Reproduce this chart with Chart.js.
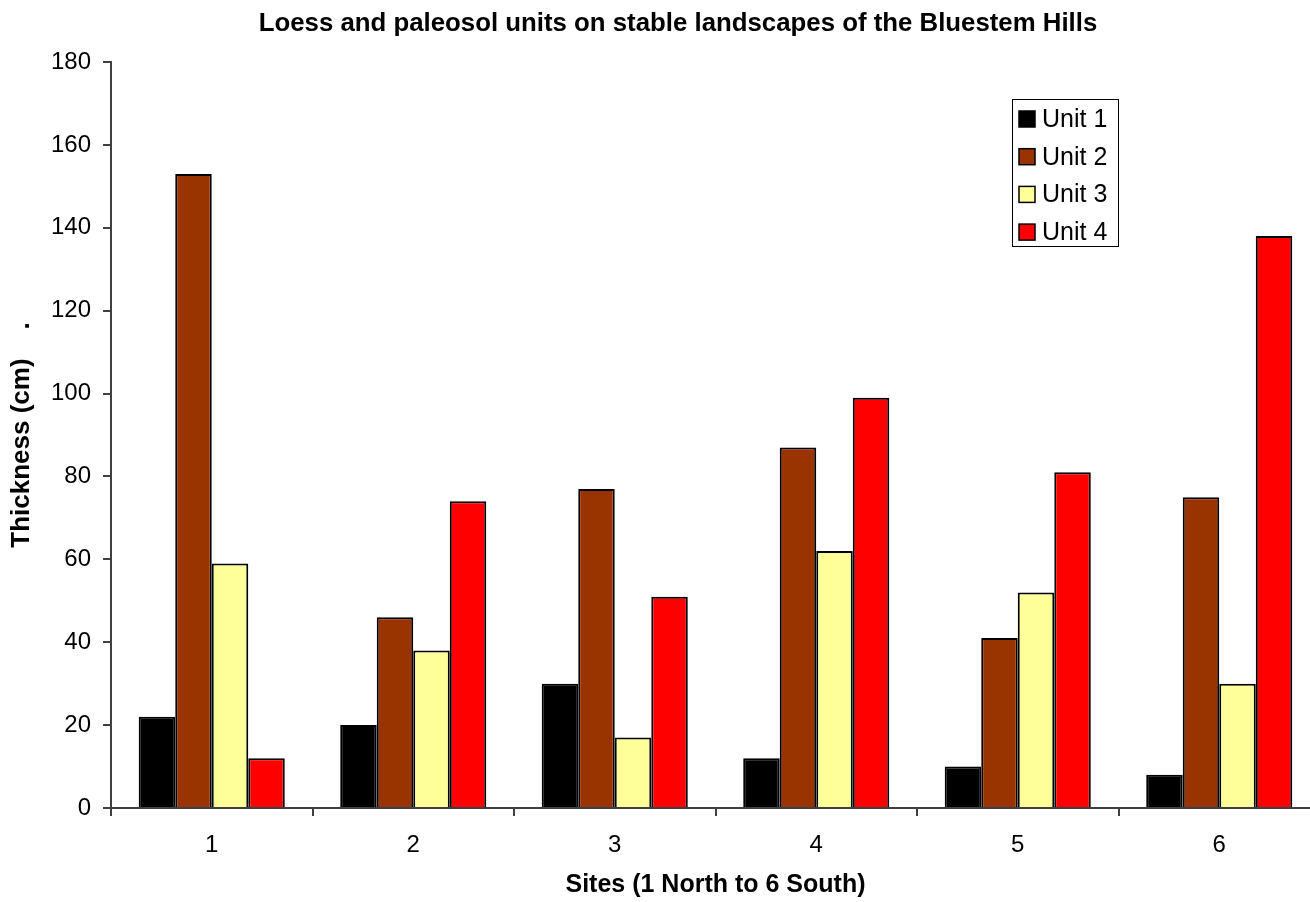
<!DOCTYPE html>
<html>
<head>
<meta charset="utf-8">
<title>Loess and paleosol units</title>
<script src="https://cdn.jsdelivr.net/npm/chart.js@4/dist/chart.umd.min.js"></script>
<style>
  html, body { margin: 0; padding: 0; background: #fff; overflow: hidden; }
  #wrap { width: 1310px; height: 902px; overflow: hidden; }
  #c { display: block; }
</style>
</head>
<body>
<div id="wrap"><canvas id="c" width="1350" height="902"></canvas></div>
<script>
// Sites along the transect, north to south
const sites = ['1', '2', '3', '4', '5', '6'];

// Thickness of each unit (cm) at each site
const unit1 = [22, 20, 30, 12, 10, 8];
const unit2 = [153, 46, 77, 87, 41, 75];
const unit3 = [59, 38, 17, 62, 52, 30];
const unit4 = [12, 74, 51, 99, 81, 138];

const unitNames = ['Unit 1', 'Unit 2', 'Unit 3', 'Unit 4'];
const unitColors = ['#000000', '#993300', '#FFFF99', '#FF0000'];

// Y axis: 0 to 180 in steps of 20
const yMin = 0, yMax = 180, yStep = 20;

const chartTitle = 'Loess and paleosol units on stable landscapes of the Bluestem Hills';
const xTitle = 'Sites (1 North to 6 South)';
const yTitle = 'Thickness (cm)    .';

const FONT = '"Liberation Sans", Arial, sans-serif';
const AXIS_GREY = '#404040';

// Chart heading and boxed legend (upper right of the plot area)
const decorations = {
  id: 'decorations',
  afterDraw(chart) {
    const ctx = chart.ctx;
    ctx.save();

    ctx.fillStyle = '#000';
    ctx.font = 'bold 25.8px ' + FONT;
    ctx.textAlign = 'center';
    ctx.textBaseline = 'alphabetic';
    ctx.fillText(chartTitle, 678, 31);

    const x0 = 1012, y0 = 99, w = 106, h = 147;
    ctx.fillStyle = '#fff';
    ctx.fillRect(x0, y0, w, h);
    ctx.strokeStyle = '#000';
    ctx.lineWidth = 1;
    ctx.strokeRect(x0 + 0.5, y0 + 0.5, w, h);
    ctx.font = '25px ' + FONT;
    ctx.textAlign = 'left';
    ctx.textBaseline = 'middle';
    chart.data.datasets.forEach((ds, i) => {
      const cy = 119 + i * 37.7;
      ctx.fillStyle = ds.backgroundColor;
      ctx.fillRect(1019, cy - 8, 16, 16);
      ctx.lineWidth = 1.5;
      ctx.strokeStyle = '#000';
      ctx.strokeRect(1019, cy - 8, 16, 16);
      ctx.fillStyle = '#000';
      ctx.fillText(ds.label, 1042, cy + 1);
    });
    ctx.restore();
  }
};

const seriesValues = [unit1, unit2, unit3, unit4];

new Chart(document.getElementById('c'), {
  type: 'bar',
  data: {
    labels: sites,
    datasets: seriesValues.map((vals, i) => ({
      label: unitNames[i],
      data: vals,
      backgroundColor: unitColors[i],
      borderColor: '#000',
      borderWidth: 2,
      barPercentage: 1.0,
      categoryPercentage: 0.725
    }))
  },
  options: {
    responsive: false,
    animation: false,
    devicePixelRatio: 1,
    layout: { padding: { left: 0, right: 30, top: 62, bottom: 0 } },
    plugins: {
      legend: { display: false },
      tooltip: { enabled: false },
      title: { display: false }
    },
    scales: {
      x: {
        grid: {
          offset: true,
          drawOnChartArea: false,
          drawTicks: true,
          tickLength: 8,
          color: AXIS_GREY,
          lineWidth: 2
        },
        border: { color: AXIS_GREY, width: 2 },
        ticks: {
          color: '#000',
          font: { family: FONT, size: 24 },
          padding: 15
        },
        title: {
          display: true,
          text: xTitle,
          color: '#000',
          font: { family: FONT, size: 25, weight: 'bold' },
          padding: { top: 0, bottom: 2 }
        },
        afterFit(scale) { scale.height = 94; }
      },
      y: {
        min: yMin,
        max: yMax,
        grid: {
          drawOnChartArea: false,
          drawTicks: true,
          tickLength: 8,
          color: AXIS_GREY,
          lineWidth: 2
        },
        border: { color: AXIS_GREY, width: 2 },
        ticks: {
          stepSize: yStep,
          color: '#000',
          font: { family: FONT, size: 24 },
          padding: 12
        },
        title: {
          display: true,
          text: yTitle,
          color: '#000',
          font: { family: FONT, size: 26, weight: 'bold' },
          padding: { top: 6, bottom: 0 }
        },
        afterFit(scale) { scale.width = 111; }
      }
    }
  },
  plugins: [decorations]
});
</script>
</body>
</html>
